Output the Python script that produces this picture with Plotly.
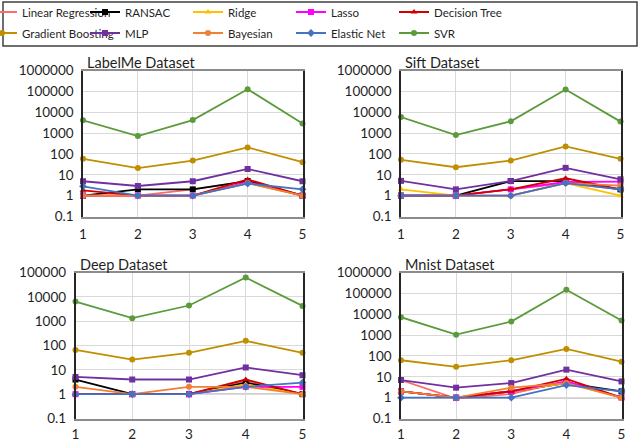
import plotly.graph_objects as go

categories = [1, 2, 3, 4, 5]
x_ticktext = ["1", "2", "3", "4", "5"]

series_names = ["Linear Regression", "RANSAC", "Ridge", "Lasso", "Decision Tree",
                "Gradient Boosting", "MLP", "Bayesian", "Elastic Net", "SVR"]

labelme = {
    "Linear Regression": [1, 1, 2, 5, 1],
    "RANSAC": [1, 2, 2, 5, 1],
    "Ridge": [1, 1, 1, 4, 1],
    "Lasso": [1, 1, 1, 4.5, 1],
    "Decision Tree": [1.8, 1, 1, 6, 1],
    "Gradient Boosting": [58, 21, 48, 205, 40],
    "MLP": [4.9, 2.9, 4.9, 19, 4.9],
    "Bayesian": [1, 1, 1, 4, 1],
    "Elastic Net": [2.8, 1, 1, 3.8, 2],
    "SVR": [4100, 720, 4200, 127000, 2900],
}
sift = {
    "Linear Regression": [1, 1, 2, 4, 2],
    "RANSAC": [1, 1, 5, 5, 2],
    "Ridge": [2, 1, 1, 4, 1],
    "Lasso": [1, 1, 2, 4.5, 4.7],
    "Decision Tree": [1, 1, 2, 6.8, 2],
    "Gradient Boosting": [52, 23, 48, 230, 58],
    "MLP": [5.1, 2, 5, 21.5, 6.1],
    "Bayesian": [1, 1, 1, 4, 3],
    "Elastic Net": [1, 1, 1, 4, 2],
    "SVR": [5900, 800, 3650, 123000, 3540],
}
deep = {
    "Linear Regression": [1, 1, 1, 3.5, 1],
    "RANSAC": [4, 1, 1, 3, 1],
    "Ridge": [1, 1, 1, 2.5, 1],
    "Lasso": [1, 1, 1, 2, 2],
    "Decision Tree": [1, 1, 1, 4, 1],
    "Gradient Boosting": [66, 26.5, 50, 155, 50],
    "MLP": [5.1, 4, 4, 12.5, 6],
    "Bayesian": [2, 1, 2, 2, 1],
    "Elastic Net": [1, 1, 1, 2, 3],
    "SVR": [6400, 1330, 4400, 62000, 4250],
}
mnist = {
    "Linear Regression": [7, 0.9, 1.5, 6, 1],
    "RANSAC": [2, 1, 2, 5, 2],
    "Ridge": [2, 1, 2, 5, 1],
    "Lasso": [2, 1, 2, 6, 1],
    "Decision Tree": [2, 1, 2, 8, 1],
    "Gradient Boosting": [62, 30, 62, 216, 53],
    "MLP": [7, 3, 5, 22, 6],
    "Bayesian": [2, 1, 3, 5, 1],
    "Elastic Net": [1, 1, 1, 4, 2],
    "SVR": [7200, 1050, 4450, 148000, 4950],
}

panel_titles = ["LabelMe Dataset", "Sift Dataset", "Deep Dataset", "Mnist Dataset"]
panel_data = [labelme, sift, deep, mnist]
y_tickvals_6 = [0.1, 1, 10, 100, 1000, 10000, 100000, 1000000]
y_ticktext_6 = ["0.1", "1", "10", "100", "1000", "10000", "100000", "1000000"]
y_tickvals_5 = [0.1, 1, 10, 100, 1000, 10000, 100000]
y_ticktext_5 = ["0.1", "1", "10", "100", "1000", "10000", "100000"]

colors = {
    "Linear Regression": "#FF6B6B",
    "RANSAC": "#000000",
    "Ridge": "#FFC000",
    "Lasso": "#FF00FF",
    "Decision Tree": "#D00000",
    "Gradient Boosting": "#BF8F00",
    "MLP": "#7030A0",
    "Bayesian": "#F08035",
    "Elastic Net": "#4472C4",
    "SVR": "#5C9B3C",
}
symbols = {
    "Linear Regression": None,
    "RANSAC": "square",
    "Ridge": "triangle-up",
    "Lasso": "square",
    "Decision Tree": "triangle-up",
    "Gradient Boosting": "circle",
    "MLP": "square",
    "Bayesian": "circle",
    "Elastic Net": "diamond",
    "SVR": "circle",
}

W, H = 640, 441
TOP = 50  # top margin reserved for the legend
PH = H - TOP
FONT = "Lato"
# plot-area positions (pixels) -> domains
boxes = [
    (83, 302.5, 70.5, 216.5),
    (401, 620.5, 70.5, 216.5),
    (75.5, 302.5, 272.5, 418.5),
    (401, 621.5, 272.5, 418.5),
]


def py(ypix):
    return (H - ypix) / PH


fig = go.Figure()
layout = {}
shapes = []
annotations = []
for i, (data, title, box) in enumerate(zip(panel_data, panel_titles, boxes)):
    n = "" if i == 0 else str(i + 1)
    xa, ya = "x" + n, "y" + n
    x0, x1, t, b = box
    dom_x = [x0 / W, x1 / W]
    dom_y = [py(b), py(t)]
    is5 = (i == 2)
    layout["xaxis" + n] = dict(
        domain=dom_x, anchor=ya, range=[1, 5], tickmode="array",
        tickvals=categories, ticktext=x_ticktext, showgrid=True,
        gridcolor="#D9D9D9", gridwidth=1, showline=True, mirror=True,
        linecolor="#8C8C8C", linewidth=1.5, ticks="", zeroline=False,
        tickfont=dict(family=FONT, size=13.5, color="#1F1F1F"),
        ticklabelstandoff=5 if i < 2 else 3, fixedrange=True, automargin=False,
    )
    layout["yaxis" + n] = dict(
        domain=dom_y, anchor=xa, type="log",
        range=[-1, 5] if is5 else [-1, 6], tickmode="array",
        tickvals=y_tickvals_5 if is5 else y_tickvals_6,
        ticktext=y_ticktext_5 if is5 else y_ticktext_6,
        showgrid=True, gridcolor="#D9D9D9", gridwidth=1,
        showline=True, mirror=True, linecolor="#262626", linewidth=1.5,
        ticks="", zeroline=False,
        tickfont=dict(family=FONT, size=13.5, color="#1F1F1F"),
        ticklabelstandoff=5, fixedrange=True, automargin=False,
    )
    # horizontal category axis crossing at 1
    shapes.append(dict(type="line", xref=xa + " domain", yref=ya,
                       x0=0, x1=1, y0=1, y1=1,
                       line=dict(color="#A0A0A0", width=1.5), layer="below"))
    annotations.append(dict(text=title, xref=xa + " domain", yref=ya + " domain",
                            x=0.01, y=1.0, xanchor="left", yanchor="bottom",
                            showarrow=False, yshift=-2.5,
                            font=dict(family=FONT, size=14.5, color="#1F1F1F")))
    for k, name in enumerate(series_names):
        sym = symbols[name]
        fig.add_trace(go.Scatter(
            x=categories, y=data[name], name=name, xaxis=xa, yaxis=ya,
            mode="lines" if sym is None else "lines+markers",
            line=dict(color=colors[name], width=1.8),
            marker=dict(symbol=sym or "circle", size=6, color=colors[name]),
            cliponaxis=False,
            showlegend=(i == 0),
            legend="legend" if k < 5 else "legend2",
            legendwidth=110 if k in (4, 9) else None,
        ))

leg_common = dict(orientation="h", xanchor="left", yanchor="middle",
                  bgcolor="rgba(0,0,0,0)", borderwidth=0,
                  entrywidth=58, entrywidthmode="pixels", itemwidth=30,
                  font=dict(family=FONT, size=11.5, color="#1F1F1F"),
                  itemclick=False, itemdoubleclick=False)
layout["legend"] = dict(leg_common, x=-18 / W, y=py(12))
layout["legend2"] = dict(leg_common, x=-18 / W, y=py(33))

shapes.append(dict(type="rect", xref="paper", yref="paper",
                   x0=3 / W, x1=637 / W, y0=py(46), y1=py(2),
                   line=dict(color="#404040", width=1.5), fillcolor="rgba(0,0,0,0)"))

fig.update_layout(
    width=W, height=H,
    margin=dict(l=0, r=0, t=TOP, b=0, pad=0, autoexpand=False),
    paper_bgcolor="white", plot_bgcolor="white",
    shapes=shapes, annotations=annotations, **layout,
)
fig.write_html(
    "out.html",
    config={"displayModeBar": False, "staticPlot": False},
    post_script="document.body.style.margin='0';document.body.style.overflow='hidden';",
)
